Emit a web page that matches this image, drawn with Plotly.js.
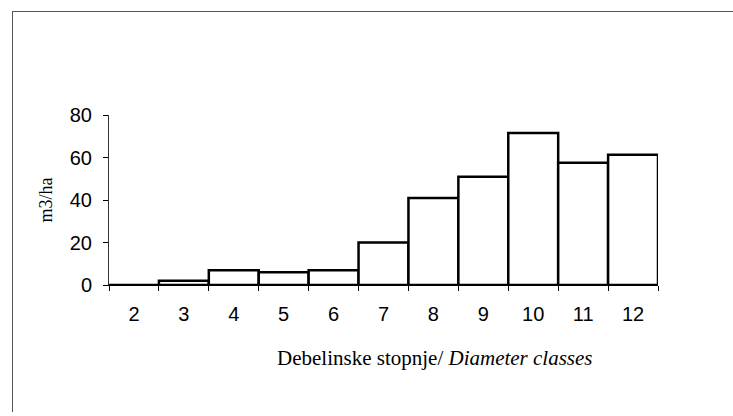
<!DOCTYPE html>
<html>
<head>
<meta charset="utf-8">
<script src="https://cdn.plot.ly/plotly-3.0.1.min.js"></script>
<style>
  html, body { margin: 0; padding: 0; background: #fff; }
  #wrap { position: relative; width: 733px; height: 416px; }
  #chart { width: 733px; height: 416px; }
  #frame { position: absolute; left: 12px; top: 11px; width: 721px; height: 400px;
           border-left: 1px solid #555; border-top: 1px solid #555; pointer-events: none; }
</style>
</head>
<body>
<div id="wrap">
  <div id="chart"></div>
  <div id="frame"></div>
</div>
<script>
// Data
const categories = ["2", "3", "4", "5", "6", "7", "8", "9", "10", "11", "12"];
const volumes = [0, 2, 7, 6, 7, 20, 41, 51, 71.5, 57.5, 61.3];
const yTickVals = [0, 20, 40, 60, 80];
const yTitle = "m3/ha";
const xTitle = "Debelinske stopnje/ <i>Diameter classes</i>";

const W = 733, H = 416;
const margin = { l: 109, r: 75, t: 115, b: 131 };
const plotW = W - margin.l - margin.r;
const plotH = H - margin.t - margin.b;
const px2paperX = (px) => (px - margin.l) / plotW;
const px2paperY = (py) => 1 - (py - margin.t) / plotH;

const trace = {
  type: "bar",
  x: categories,
  y: volumes,
  marker: { color: "#ffffff", line: { color: "#000000", width: 2.5 } },
  hoverinfo: "skip"
};

const layout = {
  width: W, height: H,
  margin: margin,
  paper_bgcolor: "#ffffff",
  plot_bgcolor: "#ffffff",
  bargap: 0,
  showlegend: false,
  font: { family: "Liberation Sans, Arial, sans-serif", color: "#000", size: 20 },
  xaxis: {
    type: "category",
    tickson: "boundaries",
    ticks: "outside",
    ticklen: 5,
    tickcolor: "#000",
    tickwidth: 1,
    showline: true,
    linecolor: "#000",
    linewidth: 1,
    showgrid: false,
    zeroline: false,
    tickfont: { family: "Liberation Sans, Arial, sans-serif", size: 20, color: "#000" },
    ticklabelstandoff: 11
  },
  yaxis: {
    range: [0, 80],
    tickvals: yTickVals,
    ticks: "outside",
    ticklen: 5,
    tickcolor: "#000",
    showline: true,
    linecolor: "#333",
    linewidth: 1,
    showgrid: false,
    zeroline: false,
    tickfont: { family: "Liberation Sans, Arial, sans-serif", size: 20, color: "#000" },
    ticklabelstandoff: 7,
    title: { text: yTitle, font: { family: "Liberation Serif, Times New Roman, serif", size: 18, color: "#000" }, standoff: 12 }
  },
  annotations: [{
    xref: "paper", yref: "paper",
    x: px2paperX(435), y: px2paperY(358),
    xanchor: "center", yanchor: "middle",
    showarrow: false,
    text: xTitle,
    font: { family: "Liberation Serif, Times New Roman, serif", size: 21, color: "#000" }
  }]
};

Plotly.newPlot("chart", [trace], layout, { displayModeBar: false, staticPlot: true });
</script>
</body>
</html>
